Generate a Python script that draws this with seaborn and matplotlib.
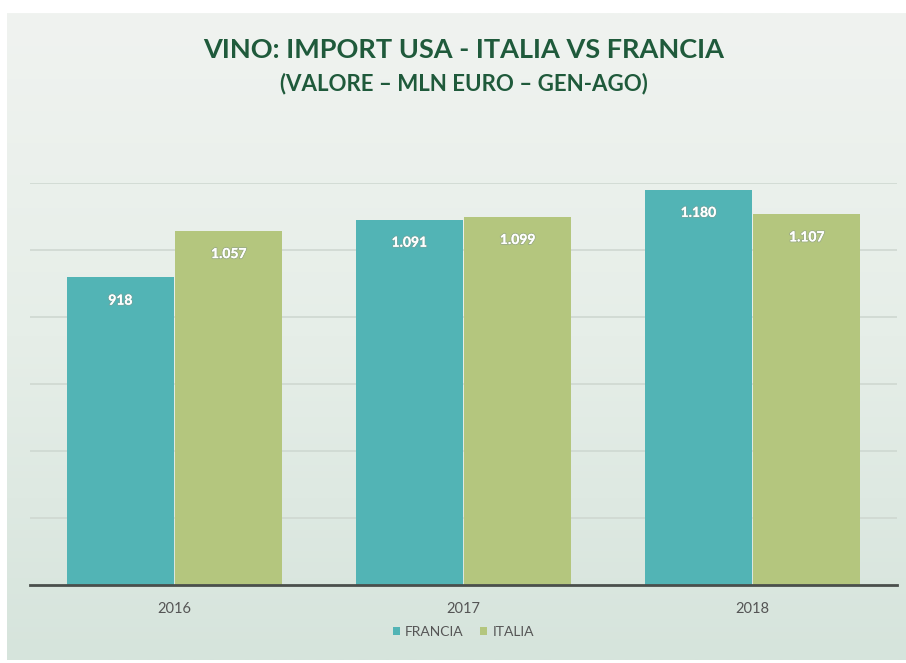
import matplotlib
matplotlib.use("Agg")
import matplotlib.pyplot as plt
import matplotlib.patheffects as pe
from matplotlib.colors import LinearSegmentedColormap
import numpy as np
import pandas as pd
import seaborn as sns

years = ["2016", "2017", "2018"]
francia = [918, 1091, 1180]
italia = [1057, 1099, 1107]
series_names = ["FRANCIA", "ITALIA"]
title = "VINO: IMPORT USA - ITALIA VS FRANCIA"
subtitle = "(VALORE \u2013 MLN EURO \u2013 GEN-AGO)"

df = pd.DataFrame({
    "anno": years * 2,
    "paese": [series_names[0]] * 3 + [series_names[1]] * 3,
    "valore": francia + italia,
})

sns.set_theme(style="white")
plt.rcParams["font.family"] = ["Lato", "DejaVu Sans"]

fig = plt.figure(figsize=(9.06, 6.63), dpi=100)
fig.patch.set_facecolor("white")

# background panel with a soft vertical gradient
bg = fig.add_axes([7 / 906, 3 / 663, 899 / 906, 647 / 663], zorder=-10)
grad = np.linspace(0, 1, 256).reshape(-1, 1)
cmap = LinearSegmentedColormap.from_list("bg", ["#f0f3f0", "#e6eee8", "#d6e4dc"])
bg.imshow(grad, aspect="auto", cmap=cmap, extent=[0, 1, 0, 1])
bg.axis("off")

ax = fig.add_axes([30 / 906, 1 - 585 / 663, 867 / 906, (585 - 183) / 663])
ax.patch.set_alpha(0)
palette = {"FRANCIA": "#52b4b5", "ITALIA": "#b4c67e"}
sns.barplot(data=df, x="anno", y="valore", hue="paese", palette=palette,
            width=0.75, gap=0.01, saturation=1, ax=ax, legend=True, zorder=3,
            linewidth=0)

ax.set_ylim(0, 1200)
ax.set_xlim(-0.5, 2.5)
ax.set_yticks(range(200, 1201, 200))
ax.yaxis.grid(True, color="#cfd8d1", linewidth=1.2, zorder=0)
ax.set_axisbelow(True)
ax.tick_params(axis="y", left=False, labelleft=False)
ax.tick_params(axis="x", bottom=False, pad=6, labelsize=10.5, labelcolor="#555555")
ax.set_xlabel("")
ax.set_ylabel("")
for s in ["top", "right", "left"]:
    ax.spines[s].set_visible(False)
ax.spines["bottom"].set_color("#4a4f4c")
ax.spines["bottom"].set_linewidth(2)
ax.spines["bottom"].set_zorder(5)

for cont in ax.containers:
    labels = [f"{int(v):,}".replace(",", ".") for v in cont.datavalues]
    txts = ax.bar_label(cont, labels=labels, padding=-21, color="white",
                        fontsize=10, fontweight="bold")
    for t in txts:
        t.set_path_effects([pe.withStroke(linewidth=1.5, foreground="#8a9a90", alpha=0.5), pe.Normal()])

leg = ax.legend(loc="upper center", bbox_to_anchor=(0.5, -0.07), ncol=2,
                frameon=False, fontsize=10, handlelength=0.5, handleheight=0.5,
                handletextpad=0.4, columnspacing=1.2)
for t in leg.get_texts():
    t.set_color("#555555")

fig.text(0.512, 1 - 50 / 663, title, ha="center", va="center", fontsize=19.5,
         fontweight="bold", color="#1f5a3b", family=["Lato", "DejaVu Sans"])
fig.text(0.512, 1 - 84 / 663, subtitle, ha="center", va="center", fontsize=16,
         fontweight="bold", color="#1f5a3b", family=["Lato", "DejaVu Sans"])

fig.savefig("out.png", dpi=100)
